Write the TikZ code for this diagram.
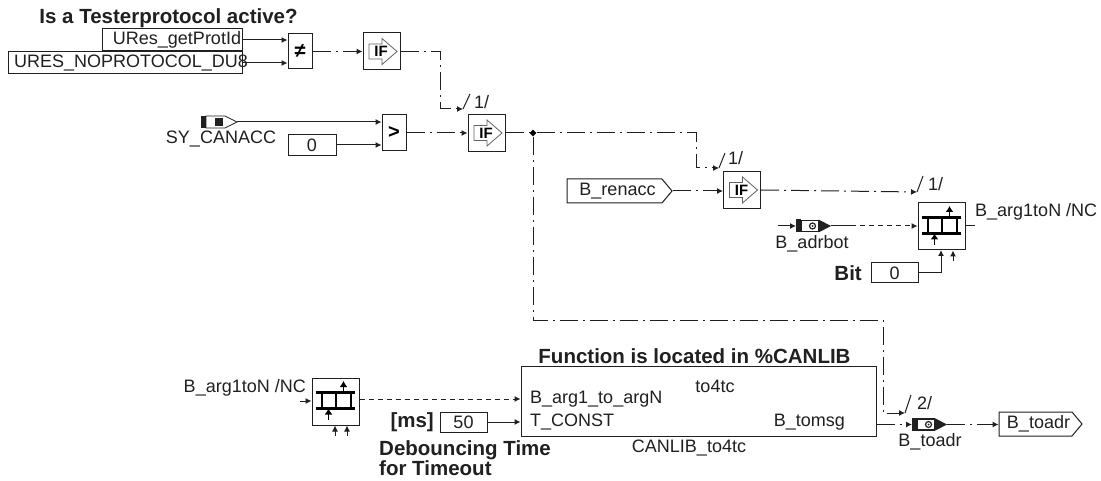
\documentclass[tikz,border=0pt]{standalone}
\usepackage{fontspec}
\setmainfont{Liberation Sans}
\usepackage{xcolor}
\usetikzlibrary{positioning, arrows.meta, shapes.symbols, shapes.geometric, calc}
\definecolor{inkdark}{HTML}{202020}
\tikzset{
  txt/.style={inner sep=0pt, text=inkdark, font=\fontsize{18}{21}\selectfont},
  boldtxt/.style={txt, font=\fontsize{20.5}{20}\selectfont\bfseries, align=left},
  block/.style={draw=inkdark, fill=white, line width=1pt, inner sep=0pt, font=\fontsize{20}{21}\selectfont\bfseries},
  constbox/.style={draw=inkdark, fill=white, line width=1pt, inner sep=0pt, text=inkdark, font=\fontsize{18}{21}\selectfont},
  sigbox/.style={shape=signal, signal to=east, signal pointer angle=100, draw=inkdark, fill=white,
    line width=1pt, inner sep=0pt, minimum height=24pt, text=inkdark, font=\fontsize{18}{21}\selectfont},
  wire/.style={line width=1pt, draw=inkdark, -{Latex[length=6pt,width=6pt]}},
  plainwire/.style={line width=1pt, draw=inkdark},
  flow/.style={wire, dash pattern=on 18pt off 5pt on 2pt off 5pt},
  dotwire/.style={wire, dash pattern=on 5pt off 4pt},
  ifglyph/.pic={
    \draw[draw=inkdark!70, line width=.8pt] (-9,-7.5) -- (4,-7.5) -- (4,-13) -- (19,0) -- (4,13) -- (4,7.5) -- (-9,7.5) -- cycle;
    \node[inner sep=0pt, font=\fontsize{15}{15}\selectfont\bfseries] (-label) at (3,0) {IF};
  },
  busglyph/.pic={
    \draw[line width=2.4pt] (-20,-8.5) -- (19,-8.5) (-20,7.5) -- (19,7.5);
    \draw[line width=2pt] (-14,-8.5) -- (-14,7.5) (0,-8.5) -- (0,7.5) (15,-8.5) -- (15,7.5);
    \draw[line width=1.4pt, -{Latex[length=6pt,width=8pt]}] (8,-8.5) -- (8,-20);
    \draw[line width=1.4pt, -{Latex[length=6pt,width=8pt]}] (-7,19) -- (-7,7.5);
  },
  siginwhite/.pic={
    \fill[inkdark] (-18,-6) rectangle (-13,6);
    \draw[inkdark, fill=white, line width=.8pt] (-13,-6) -- (6,-6) -- (18,0) -- (6,6) -- (-13,6) -- cycle;
    \fill[inkdark] (-4,-4) rectangle (4,4);
    \coordinate (-east) at (18,0);
    \coordinate (-west) at (-18,0);
  },
  sigblack/.pic={
    \fill[inkdark] (-17.5,-6.5) rectangle (-12.5,6.5);
    \fill[inkdark] (5,-6.5) -- (17.5,0) -- (5,6.5) -- cycle;
    \draw[inkdark, line width=1.5pt] (-12.5,-5.5) rectangle (5,5.5);
    \draw[inkdark, line width=1.2pt, fill=white] (-1,0) circle (3pt);
    \fill[inkdark] (-1,0) circle (1pt);
    \coordinate (-east) at (17.5,0);
    \coordinate (-west) at (-17.5,0);
  },
}
\begin{document}
\begin{tikzpicture}[x=1pt, y=-1pt]
  \useasboundingbox[fill=white] (0,0) rectangle (1101,481);

  % top row
  \node[boldtxt] (title) at (168.5,18) {Is a Testerprotocol active?};
  \node[constbox, minimum width=140pt, minimum height=22pt] (protid) at (172,40) {\hspace*{10pt}URes\_getProtId};
  \node[constbox, minimum width=234pt, minimum height=22pt, anchor=center] (noprot) at (125,63) {};
  \node[txt, anchor=west] (noprottxt) at (14,63) {URES\_NOPROTOCOL\_DU8};
  \node[block, minimum width=24pt, minimum height=35pt] (neq) at (300,51.5) {≠};
  \node[block, minimum width=37pt, minimum height=37pt] (ifa) at (381.5,51.5) {};
  \pic (ifaglyph) at (378,51.5) {ifglyph};
  \draw[wire] (protid.east) -- (protid.east -| neq.west);
  \draw[wire] (noprot.east) -- (noprot.east -| neq.west);
  \draw[flow] (neq.east) -- (ifa.west);

  % second row
  \pic (sycan) at (219,122) {siginwhite};
  \node[txt] (sycantxt) at (221,139) {SY\_CANACC};
  \node[constbox, minimum width=48pt, minimum height=21pt] (zeroa) at (312,145) {0};
  \node[block, minimum width=24pt, minimum height=36pt] (grt) at (394,133) {>};
  \node[block, minimum width=37pt, minimum height=37pt] (ifb) at (486.5,133) {};
  \pic (ifbglyph) at (483,133) {ifglyph};
  \draw[wire] (sycan-east) -- (sycan-east -| grt.west);
  \draw[wire] (zeroa.east) -- (zeroa.east -| grt.west);
  \draw[flow] (grt.east) -- (ifb.west);
  \coordinate (tipa) at (463,109);
  \draw[flow] (ifa.east) -| (440,109) -- (tipa);
  \draw[plainwire] (tipa) -- ++(7,-15);
  \node[txt, anchor=west] (busa) at (474,102) {1/};

  % enable path
  \node[fill=black, diamond, inner sep=0pt, minimum size=7pt, shape aspect=1] (split) at (533,133) {};
  \draw[plainwire, dash pattern=on 18pt off 5pt on 2pt off 5pt] (ifb.east) -- (split);
  \node[sigbox, minimum width=105pt] (renacc) at (614.5,191) {\hspace*{6pt}B\_renacc};
  \node[block, minimum width=37pt, minimum height=37pt] (ifc) at (742,190) {};
  \pic (ifcglyph) at (738.5,190) {ifglyph};
  \draw[flow] (renacc.east) -- (renacc.east -| ifc.west);
  \coordinate (tipb) at (719,168);
  \draw[flow] (split) -| (696,168) -- (tipb);
  \draw[plainwire] (tipb) -- ++(6,-15);
  \node[txt, anchor=west] (busb) at (728,158) {1/};

  % upper bus block
  \node[block, minimum width=47pt, minimum height=47pt] (busup) at (941.5,226.5) {};
  \pic (busupglyph) at (941.5,226) {busglyph};
  \pic (adrbot) at (813.5,226) {sigblack};
  \coordinate (adrin) at (778,226);
  \node[txt] (adrbottxt) at (812,244) {B\_adrbot};
  \draw[wire] (adrin) -- (adrbot-west);
  \draw[plainwire] (adrbot-east) -- ++(20,0);
  \draw[dotwire] ($(adrbot-east)+(20,0)$) -- (adrbot-east -| busup.west);
  \coordinate (tipc) at (917,192);
  \draw[flow] (ifc.east) -- (tipc);
  \draw[plainwire] (tipc) -- ++(6,-16);
  \node[txt, anchor=west] (busc) at (928,184) {1/};
  \coordinate (busupout) at (975,226);
  \draw[plainwire] (busup.east |- busupout) -- (busupout);
  \node[txt, anchor=west] (busupname) at (975,212) {B\_arg1toN /NC};
  \node[boldtxt, anchor=east] (bittxt) at (862,273) {Bit};
  \node[constbox, minimum width=47pt, minimum height=20pt] (zerob) at (894.5,273) {0};
  \draw[wire] (zerob.east) -| (941,250);
  \coordinate (freea) at (953,261);
  \draw[wire] (freea) -- (freea |- busup.south);

  % lower bus block
  \node[block, minimum width=47pt, minimum height=47pt] (busdn) at (335.5,401.5) {};
  \pic (busdnglyph) at (335.5,401) {busglyph};
  \node[txt, anchor=east] (busdnname) at (306,388) {B\_arg1toN /NC};
  \coordinate (busdnin) at (300,401);
  \draw[wire] (busdnin) -- (busdnin -| busdn.west);
  \coordinate (freeb) at (335,436);
  \coordinate (freec) at (347,436);
  \draw[wire] (freeb) -- (freeb |- busdn.south);
  \draw[wire] (freec) -- (freec |- busdn.south);

  % library function
  \node[block, minimum width=355pt, minimum height=70pt] (canlib) at (698.5,401) {};
  \node[boldtxt] (canlibtitle) at (694.5,356) {Function is located in \%CANLIB};
  \node[txt] (canlibtype) at (715,386) {to4tc};
  \node[txt, anchor=west] (canlibarg) at (530,399) {B\_arg1\_to\_argN};
  \node[txt, anchor=west] (canlibconst) at (530,422) {T\_CONST};
  \node[txt, anchor=east] (canlibmsg) at (845,422) {B\_tomsg};
  \node[txt] (canlibname) at (689,448) {CANLIB\_to4tc};
  \node[boldtxt, anchor=east] (mstxt) at (434,422) {[ms]};
  \node[constbox, minimum width=47pt, minimum height=20pt] (fifty) at (463.5,422) {50};
  \node[boldtxt, anchor=north west] (debounce) at (379,440) {Debouncing Time\\for Timeout};
  \draw[dotwire] (busdn.east |- canlibarg) -- (canlibarg -| canlib.west);
  \draw[wire] (fifty.east) -- (fifty.east -| canlib.west);

  % timeout output
  \pic (toadr) at (929.5,424.5) {sigblack};
  \node[txt] (toadrtxt) at (930,442) {B\_toadr};
  \node[sigbox, minimum width=83pt] (toadrout) at (1035.5,424) {\hspace*{6pt}B\_toadr};
  \draw[flow] (canlib.east |- toadr-west) -- (toadr-west);
  \draw[flow] (toadr-east) -- (toadr-east -| toadrout.west);
  \coordinate (tipd) at (905,413);
  \draw[flow] (split) -- (533,320) -| (883,413) -- (tipd);
  \draw[plainwire] (tipd) -- ++(6,-18);
  \node[txt, anchor=west] (busd) at (917,403) {2/};
\end{tikzpicture}
\end{document}
